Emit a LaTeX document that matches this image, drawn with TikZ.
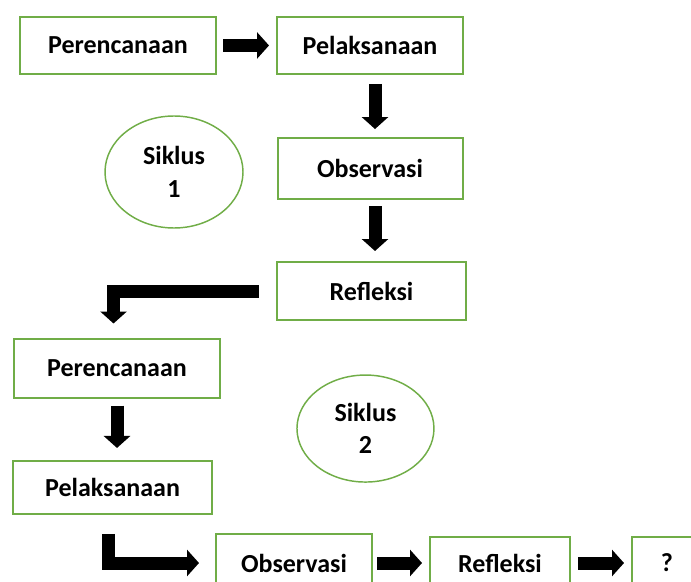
\documentclass[tikz,border=0pt]{standalone}
\usepackage{fontspec}
\setmainfont{Carlito}
\usepackage{tikz}
\definecolor{gg}{RGB}{112, 173, 71}
\usetikzlibrary{arrows.meta}
\usetikzlibrary{shapes.geometric}

\begin{document}
\begin{tikzpicture}[
  box/.style={rectangle, draw=gg, line width=1.5pt, fill=white, inner sep=0pt,
    font=\fontsize{19.5}{23.5}\selectfont\bfseries},
  cycle/.style={ellipse, draw=gg, line width=1.1pt, inner sep=0pt, align=center,
    font=\fontsize{19.5}{24.5}\selectfont\bfseries},
  blockarrow/.style={line width=9.75pt, color=black, line join=miter,
    -{Triangle[length=9pt, width=19.5pt]}}]
\useasboundingbox (0pt, 0pt) rectangle (518.25pt, -435.75pt);
\clip (0pt, 0pt) rectangle (518.25pt, -435.75pt);
% siklus 1
\node (P1) [box, minimum width=147pt, minimum height=42.75pt] at (88.5pt, -34.1pt) {Perencanaan};
\node (L1) [box, minimum width=139.5pt, minimum height=42.75pt] at (277.5pt, -34.1pt) {Pelaksanaan};
\node (O1) [box, minimum width=138.75pt, minimum height=45.75pt] at (277.5pt, -126.4pt) {Observasi};
\node (R1) [box, minimum width=141.75pt, minimum height=43.5pt] at (278.6pt, -218.25pt) {Refleksi};
\node (E1) [cycle, minimum width=103.5pt, minimum height=84pt] at (130.5pt, -129pt) {Siklus\\1};
% siklus 2
\node (P2) [box, minimum width=154.5pt, minimum height=44.25pt] at (87.75pt, -276pt) {Perencanaan};
\node (L2) [box, minimum width=149.25pt, minimum height=39.75pt] at (84.4pt, -365.6pt) {Pelaksanaan};
\node (O2) [box, minimum width=117pt, minimum height=43.5pt] at (220.5pt, -422.25pt) {Observasi};
\node (R2) [box, minimum width=105pt, minimum height=39pt] at (375pt, -422.25pt) {Refleksi};
\node (Q) [box, minimum width=52.5pt, minimum height=39pt] at (500.25pt, -422.25pt) {?};
\node (E2) [cycle, minimum width=102.75pt, minimum height=80.25pt] at (274.1pt, -321.4pt) {Siklus\\2};
% panah
\draw [blockarrow, shorten <=4.5pt, shorten >=5.25pt] (P1.east) to (L1.west);
\draw [blockarrow, shorten <=6.75pt, shorten >=6pt] ([xshift=3.75pt]L1.south) to ([xshift=3.75pt]O1.north);
\draw [blockarrow, shorten <=4.5pt, shorten >=7.5pt] ([xshift=3.75pt]O1.south) to ([xshift=3.75pt]O1.south |- R1.north);
\draw [blockarrow] ([xshift=-12.75pt]R1.west) -| ([xshift=-2.6pt, yshift=10.5pt]P2.north);
\draw [blockarrow, shorten <=5.25pt, shorten >=9pt] (P2.south) to (P2.south |- L2.north);
\draw [blockarrow] ([xshift=-3pt, yshift=-14.25pt]L2.south) |- ([xshift=-12pt]O2.west);
\draw [blockarrow, shorten <=3pt, shorten >=5.25pt] (O2.east) to (R2.west);
\draw [blockarrow, shorten <=5.25pt, shorten >=5.25pt] (R2.east) to (Q.west);
\end{tikzpicture}
\end{document}
